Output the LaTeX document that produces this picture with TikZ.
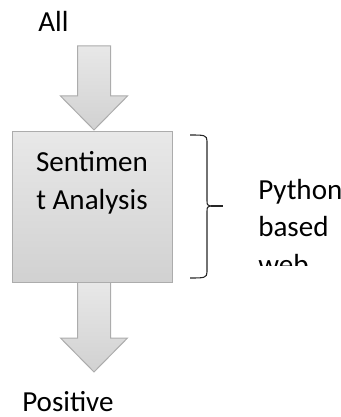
\documentclass[tikz,border=0pt]{standalone}
\usepackage{fontspec}
\setmainfont{Carlito}
\usetikzlibrary{calc}
\tikzset{
	block/.style={draw=gray!65, line width=0.75pt, top color=gray!18, bottom color=gray!36},
	lbl/.style={font=\fontsize{21.8}{28}\selectfont, inner sep=0pt},
}
\newcommand{\blockarrow}[2] % start of shaft, tip (units are px, y downwards)
{
	\draw[block] ($(#1)+(-16.5,0)$) -- ($(#1)+(16.5,0)$) -- ($(#2)+(16.5,-34)$)
		-- ($(#2)+(33.5,-34)$) -- (#2) -- ($(#2)+(-33.5,-34)$)
		-- ($(#2)+(-16.5,-34)$) -- cycle;
}

\begin{document}
\begin{tikzpicture}[x=0.75pt, y=-0.75pt]
	% 341 x 417 px, y runs down
	\useasboundingbox (0,0) rectangle (341,417);
	
	% labels
	\node[lbl, anchor=base west] (all) at (38,32) {All};
	\node[lbl, anchor=base west] (pos) at (22,411) {Positive};
	
	% arrow ends
	\coordinate (inA) at (94,46);
	\coordinate (inB) at (94,130);
	\coordinate (outA) at (94,282);
	\coordinate (outB) at (94,372);
	
	\blockarrow{inA}{inB};
	\blockarrow{outA}{outB};
	
	% analysis block (base = last line)
	\node[block, minimum width=120pt, minimum height=112.5pt] (sa) at (92,207) {};
	\node[lbl, align=center, anchor=base] (satxt) at (92,209) {Sentimen\\t Analysis};
	
	% brace
	\draw[line width=0.8pt, black!85] (190,135) .. controls (204,135) and (207,135) .. (207,141) -- (207,200)
		.. controls (207,205) .. (211,206) .. controls (207,207) .. (207,212) -- (207,272)
		.. controls (207,278) and (204,278) .. (190,278);
	\draw[line width=0.8pt, black!85] (211,206) -- (223,206);
	
	% text cut off at the bottom
	\begin{scope}
		\clip (240,150) rectangle (341,265);
		\node[lbl, align=left, anchor=base west] (py) at (258,274) {Python\\based\\web};
	\end{scope}
\end{tikzpicture}
\end{document}
